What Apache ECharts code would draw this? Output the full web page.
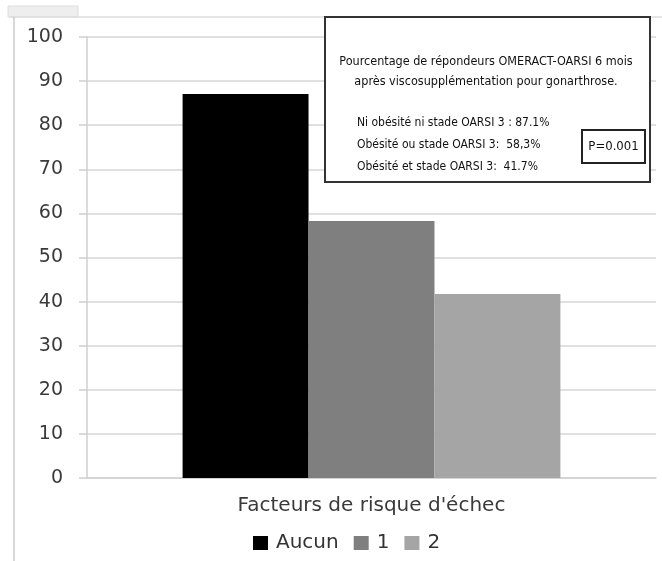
<!DOCTYPE html>
<html>
<head>
<meta charset="utf-8">
<script src="https://cdn.jsdelivr.net/npm/echarts@6/dist/echarts.min.js"></script>
<style>
html,body{margin:0;padding:0;background:#fff;}
#chart{width:662px;height:561px;}
</style>
</head>
<body>
<div id="chart"></div>
<script>
// Categories, series and axis ticks
const categories = ["Facteurs de risque d'échec"];
const seriesNames = ['Aucun', '1', '2'];
const aucun = [87.1];
const un = [58.3];
const deux = [41.7];
const yTicks = { min: 0, max: 100, interval: 10 };

// Annotation text
const noteTitle = ['Pourcentage de répondeurs OMERACT-OARSI 6 mois', 'après viscosupplémentation pour gonarthrose.'];
const noteLines = ['Ni obésité ni stade OARSI 3 : 87.1%', 'Obésité ou stade OARSI 3:  58,3%', 'Obésité et stade OARSI 3:  41.7%'];
const pValue = 'P=0.001';

const colors = ['#000000', '#7f7f7f', '#a5a5a5'];
const narrow = "'Liberation Sans Narrow', 'DejaVu Sans Condensed', sans-serif";

const chart = echarts.init(document.getElementById('chart'), null, { renderer: 'canvas' });

const values = [aucun, un, deux];

chart.setOption({
  backgroundColor: '#ffffff',
  animation: false,
  grid: { left: 87, right: 6, top: 37, bottom: 83, containLabel: false },
  legend: {
    data: seriesNames,
    left: 248,
    top: 528,
    icon: 'rect',
    itemWidth: 15,
    itemHeight: 14,
    itemGap: 15,
    textStyle: { fontFamily: 'DejaVu Sans', fontSize: 20, color: '#333', padding: [0, 0, 0, 3] }
  },
  xAxis: {
    type: 'category',
    data: categories,
    axisLine: { lineStyle: { color: '#cfcfcf', width: 1.5 } },
    axisTick: { show: false },
    axisLabel: { margin: 18, fontFamily: 'DejaVu Sans', fontSize: 20, color: '#3a3a3a' }
  },
  yAxis: {
    type: 'value',
    min: yTicks.min,
    max: yTicks.max,
    interval: yTicks.interval,
    axisLine: { show: true, lineStyle: { color: '#cfcfcf', width: 1.5 } },
    axisTick: { show: true, length: 8, lineStyle: { color: '#cfcfcf', width: 1.5 } },
    axisLabel: { margin: 24, fontFamily: 'DejaVu Sans', fontSize: 19, color: '#3a3a3a' },
    splitLine: { lineStyle: { color: '#d6d6d6', width: 1.5 } }
  },
  series: seriesNames.map((name, i) => ({
    name: name,
    type: 'bar',
    data: values[i],
    barGap: '0%',
    barCategoryGap: '33.6%',
    itemStyle: { color: colors[i] }
  })),
  graphic: [
    // outer frame
    { type: 'rect', shape: { x: 8, y: 6, width: 70, height: 11 }, style: { fill: '#eeeeee', stroke: '#dddddd', lineWidth: 1 }, z: 1 },
    { type: 'line', shape: { x1: 10, y1: 17, x2: 662, y2: 17 }, style: { stroke: '#dddddd', lineWidth: 1.5 }, z: 1 },
    { type: 'line', shape: { x1: 14, y1: 17, x2: 14, y2: 561 }, style: { stroke: '#cccccc', lineWidth: 1.5 }, z: 1 },
    // annotation box
    { type: 'rect', shape: { x: 325, y: 17, width: 325, height: 165 }, style: { fill: '#ffffff', stroke: '#333333', lineWidth: 2 }, z: 10 },
    { type: 'text', x: 486, y: 62, style: { text: noteTitle[0], fill: '#111', font: '12.5px ' + narrow, textAlign: 'center', textVerticalAlign: 'middle' }, z: 11 },
    { type: 'text', x: 486, y: 82, style: { text: noteTitle[1], fill: '#111', font: '12.5px ' + narrow, textAlign: 'center', textVerticalAlign: 'middle' }, z: 11 },
    { type: 'text', x: 357, y: 123, style: { text: noteLines[0], fill: '#111', font: '12px ' + narrow, textAlign: 'left', textVerticalAlign: 'middle' }, z: 11 },
    { type: 'text', x: 357, y: 145, style: { text: noteLines[1], fill: '#111', font: '12px ' + narrow, textAlign: 'left', textVerticalAlign: 'middle' }, z: 11 },
    { type: 'text', x: 357, y: 167, style: { text: noteLines[2], fill: '#111', font: '12px ' + narrow, textAlign: 'left', textVerticalAlign: 'middle' }, z: 11 },
    { type: 'rect', shape: { x: 582, y: 130, width: 63, height: 33 }, style: { fill: '#ffffff', stroke: '#222222', lineWidth: 2 }, z: 11 },
    { type: 'text', x: 613.5, y: 147, style: { text: pValue, fill: '#111', font: '13px ' + narrow, textAlign: 'center', textVerticalAlign: 'middle' }, z: 12 }
  ]
});
</script>
</body>
</html>
